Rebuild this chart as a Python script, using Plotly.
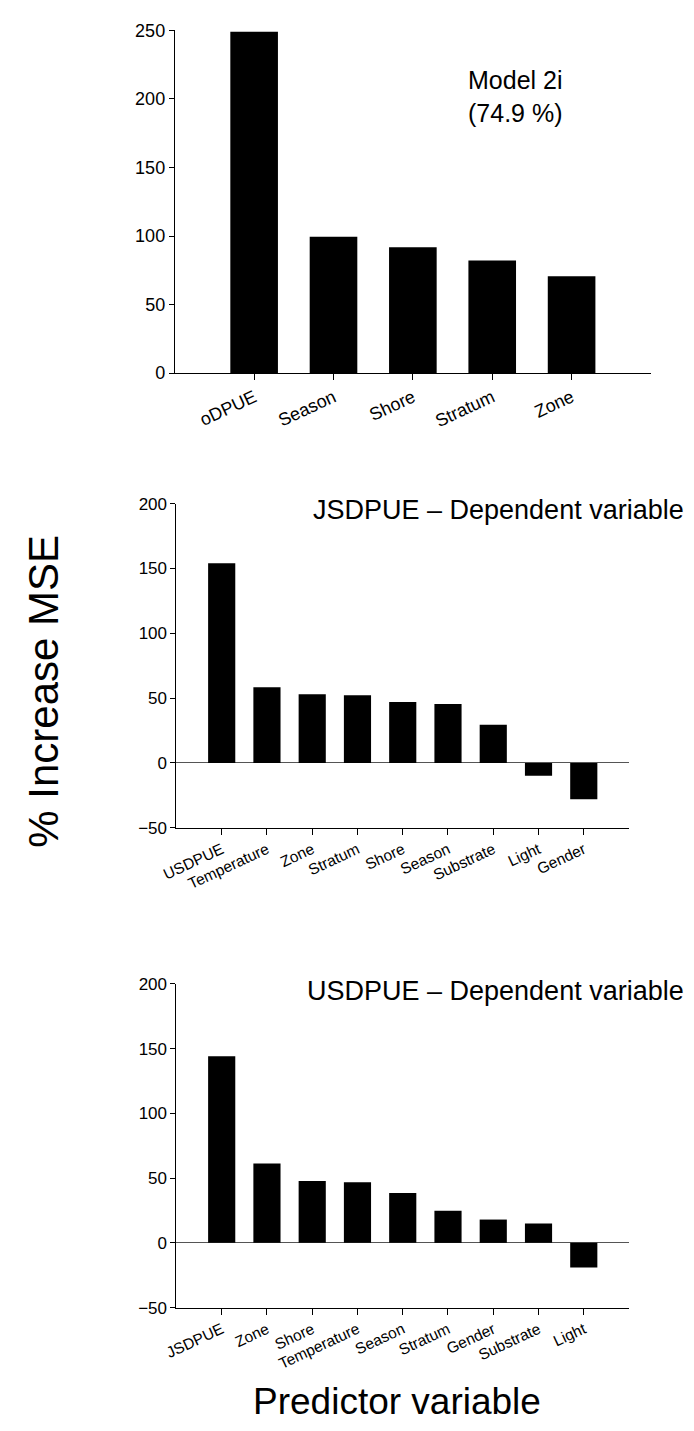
import plotly.graph_objects as go

# Random-forest variable importance (% increase in MSE) for three models
p1_cats = ["oDPUE", "Season", "Shore", "Stratum", "Zone"]
p1_vals = [249.0, 99.5, 91.8, 82.2, 70.7]

p2_cats = ["USDPUE", "Temperature", "Zone", "Stratum", "Shore",
           "Season", "Substrate", "Light", "Gender"]
p2_vals = [154.1, 58.3, 53.0, 52.2, 46.9, 45.4, 29.4, -9.9, -28.1]

p3_cats = ["JSDPUE", "Zone", "Shore", "Temperature", "Season",
           "Stratum", "Gender", "Substrate", "Light"]
p3_vals = [144.2, 61.3, 47.7, 46.9, 38.5, 24.8, 18.0, 15.0, -19.0]

W, H = 694, 1431
FONT = "Liberation Sans, Arial, sans-serif"

fig = go.Figure()
fig.add_trace(go.Bar(x=p1_cats, y=p1_vals, marker_color="black",
                     marker_line_width=0, xaxis="x", yaxis="y"))
fig.add_trace(go.Bar(x=p2_cats, y=p2_vals, marker_color="black",
                     marker_line_width=0, xaxis="x2", yaxis="y2"))
fig.add_trace(go.Bar(x=p3_cats, y=p3_vals, marker_color="black",
                     marker_line_width=0, xaxis="x3", yaxis="y3"))


def px_x(v):
    return v / W


def px_y(v):
    return 1 - v / H


def xax(domain, rng, anchor, size):
    return dict(domain=domain, range=rng, anchor=anchor, type="category",
                showline=True, linecolor="black", linewidth=1,
                ticks="outside", ticklen=6, tickcolor="black", tickwidth=1,
                tickangle=-25, showgrid=False, zeroline=False,
                tickfont=dict(family=FONT, size=size, color="black"))


def yax(domain, rng, anchor, dtick, size, zero):
    return dict(domain=domain, range=rng, anchor=anchor,
                showline=True, linecolor="black", linewidth=1,
                ticks="outside", ticklen=5, tickcolor="black", tickwidth=1,
                dtick=dtick, tick0=0, showgrid=False,
                zeroline=zero, zerolinecolor="#555", zerolinewidth=1,
                tickfont=dict(family=FONT, size=size, color="black"))


fig.update_layout(
    width=W, height=H,
    margin=dict(l=0, r=0, t=0, b=0),
    paper_bgcolor="white", plot_bgcolor="white",
    showlegend=False, bargap=0.4,
    xaxis=xax([px_x(163.3), px_x(650)], [-1, 5], "y", 18),
    yaxis=yax([px_y(368.3), px_y(20.7)], [0, 250], "x", 50, 18, False),
    xaxis2=xax([px_x(165), px_x(627.6)], [-1, 9], "y2", 15.5),
    yaxis2=yax([px_y(829.3), px_y(500.7)], [-50, 200], "x2", 50, 17, True),
    xaxis3=xax([px_x(165), px_x(627.6)], [-1, 9], "y3", 15.5),
    yaxis3=yax([px_y(1316), px_y(987.7)], [-50, 200], "x3", 50, 17, True),
)

annots = [
    dict(text="Model 2i<br>(74.9 %)", x=px_x(512), y=px_y(88),
         xanchor="center", yanchor="middle", align="center",
         font=dict(family=FONT, size=25, color="black")),
    dict(text="JSDPUE – Dependent variable", x=px_x(686), y=px_y(507),
         xanchor="right", yanchor="middle",
         font=dict(family=FONT, size=27, color="black")),
    dict(text="USDPUE – Dependent variable", x=px_x(686), y=px_y(995),
         xanchor="right", yanchor="middle",
         font=dict(family=FONT, size=27, color="black")),
    dict(text="% Increase MSE", x=px_x(29), y=px_y(691), textangle=-90,
         xanchor="center", yanchor="middle",
         font=dict(family=FONT, size=42, color="black")),
    dict(text="Predictor variable", x=px_x(390), y=px_y(1411),
         xanchor="center", yanchor="middle",
         font=dict(family=FONT, size=37, color="black")),
]
for a in annots:
    a.update(xref="paper", yref="paper", showarrow=False)
fig.update_layout(annotations=annots)

fig.write_html("out.html")
